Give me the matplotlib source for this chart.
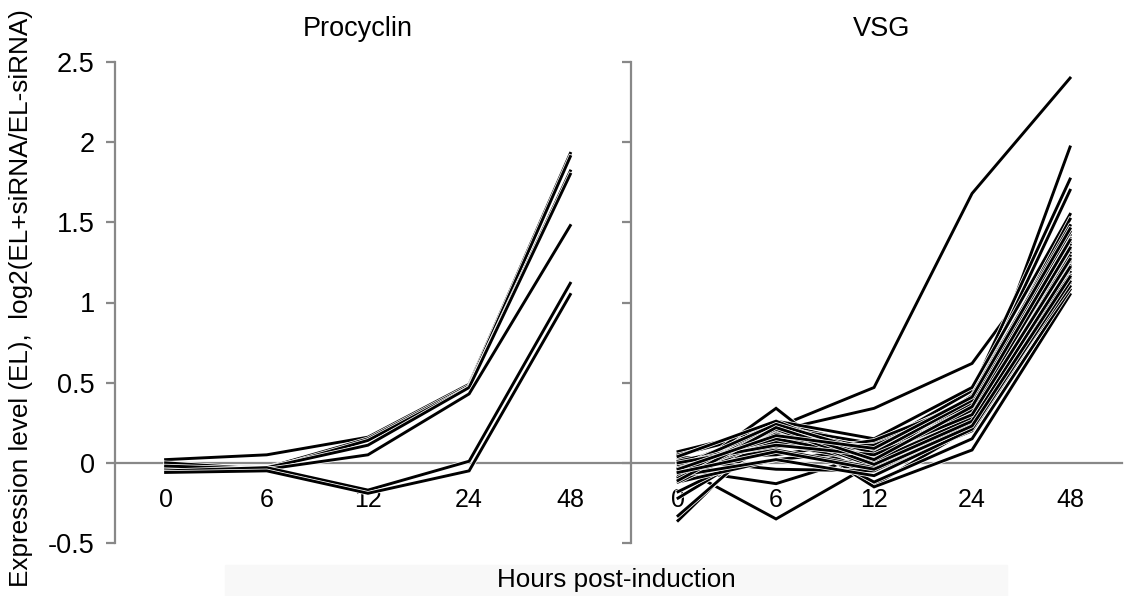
import matplotlib
matplotlib.use('Agg')
from matplotlib import pyplot as plt
from matplotlib import patheffects
from matplotlib.patches import Rectangle

plt.rcParams['font.family'] = ['Liberation Sans', 'DejaVu Sans']

hours = ['0', '6', '12', '24', '48']

# log2 ratios, one row per gene
procyclin = [
    [0.02, 0.05, 0.16, 0.49, 1.93],
    [-0.02, -0.03, 0.15, 0.48, 1.91],
    [0.00, -0.04, 0.14, 0.47, 1.82],
    [-0.04, -0.03, 0.11, 0.47, 1.80],
    [-0.02, -0.04, 0.05, 0.43, 1.48],
    [-0.05, -0.03, -0.17, 0.01, 1.12],
    [-0.06, -0.05, -0.19, -0.05, 1.05],
]

vsg = [
    [0.07, 0.22, 0.47, 1.68, 2.40],
    [0.05, 0.20, 0.34, 0.62, 1.45],
    [-0.02, -0.35, 0.00, 0.35, 1.38],
    [-0.10, 0.34, -0.14, 0.22, 1.25],
    [-0.04, -0.13, 0.06, 0.28, 1.30],
    [-0.36, 0.24, -0.15, 0.08, 1.05],
    [-0.33, 0.20, -0.12, 0.15, 1.08],
    [-0.22, 0.15, -0.05, 0.20, 1.12],
    [-0.18, 0.12, 0.02, 0.25, 1.15],
    [0.02, -0.04, -0.05, 0.24, 1.10],
    [-0.12, 0.02, 0.08, 0.30, 1.97],
    [-0.06, 0.25, 0.10, 0.45, 1.77],
    [-0.03, 0.22, 0.12, 0.40, 1.70],
    [-0.08, 0.26, 0.15, 0.47, 1.55],
    [0.03, 0.05, 0.14, 0.38, 1.52],
    [-0.05, 0.23, 0.05, 0.35, 1.42],
    [-0.09, 0.20, 0.03, 0.33, 1.40],
    [0.00, 0.18, 0.07, 0.31, 1.37],
    [-0.11, 0.24, 0.00, 0.29, 1.35],
    [-0.07, 0.16, 0.04, 0.27, 1.33],
    [-0.01, 0.21, 0.09, 0.36, 1.31],
    [-0.04, 0.12, 0.01, 0.26, 1.28],
    [-0.10, 0.19, -0.02, 0.24, 1.26],
    [0.01, 0.14, 0.06, 0.32, 1.23],
    [-0.06, 0.10, 0.11, 0.34, 1.21],
    [-0.02, 0.08, -0.03, 0.22, 1.19],
    [-0.12, 0.17, 0.04, 0.30, 1.17],
    [0.04, 0.26, 0.02, 0.42, 1.48],
    [-0.08, 0.02, -0.08, 0.21, 1.13],
    [-0.05, 0.13, 0.08, 0.37, 1.36],
    [-0.03, 0.24, 0.06, 0.39, 1.44],
    [-0.09, 0.18, 0.01, 0.28, 1.29],
    [-0.01, 0.15, 0.03, 0.33, 1.34],
    [-0.07, 0.21, -0.01, 0.26, 1.22],
    [0.00, 0.11, 0.05, 0.30, 1.27],
    [-0.11, 0.22, 0.02, 0.35, 1.39],
    [-0.04, 0.17, 0.09, 0.41, 1.46],
    [-0.06, 0.07, -0.04, 0.23, 1.16],
]

yticks = [-0.5, 0, 0.5, 1, 1.5, 2, 2.5]
ytick_labels = ['-0.5', '0', '0.5', '1', '1.5', '2', '2.5']

axis_grey = '#888888'
outline = [patheffects.Stroke(linewidth=3.2, foreground='white'), patheffects.Normal()]


def style_panel(ax, title, title_x, xlim, show_labels):
    ax.set_xlim(*xlim)
    ax.set_ylim(-0.5, 2.5)
    for side in ['top', 'right']:
        ax.spines[side].set_visible(False)
    ax.spines['left'].set_color(axis_grey)
    ax.spines['left'].set_linewidth(1.6)
    ax.spines['bottom'].set_position(('data', 0))
    ax.spines['bottom'].set_color(axis_grey)
    ax.spines['bottom'].set_linewidth(1.6)
    ax.spines['bottom'].set_zorder(0.5)
    ax.set_xticks(range(len(hours)))
    ax.set_xticklabels(hours)
    ax.tick_params(axis='x', length=0, pad=18, labelsize=18)
    ax.set_yticks(yticks)
    ax.set_yticklabels(ytick_labels if show_labels else [])
    ax.tick_params(axis='y', length=6.5, width=1.6, color=axis_grey, pad=8, labelsize=19.5)
    ax.set_title(title, fontsize=19.5, pad=19, x=title_x)
    ax.patch.set_visible(False)


def draw_lines(ax, profiles):
    for row in profiles:
        ax.plot(range(len(hours)), row, color='black', linewidth=2.1,
                solid_joinstyle='miter', path_effects=outline, zorder=2)


fig = plt.figure(figsize=(11.41, 5.96), dpi=100)
fig.patches.append(Rectangle((225 / 1141, 0), 782 / 1141, 31 / 596,
                             transform=fig.transFigure, color='#f8f8f8', zorder=0))

ax1 = fig.add_axes([115 / 1141, 53 / 596, 516 / 1141, 481 / 596])
ax2 = fig.add_axes([631 / 1141, 53 / 596, 491 / 1141, 481 / 596])

draw_lines(ax1, procyclin)
draw_lines(ax2, vsg)
style_panel(ax1, 'Procyclin', 0.47, (-0.5, 4.6), True)
style_panel(ax2, 'VSG', 0.511, (-0.48, 4.53), False)

fig.text(21 / 1141, 0.5, 'Expression level (EL),  log2(EL+siRNA/EL-siRNA)',
         rotation=90, ha='center', va='center', fontsize=18.8)
fig.text(616 / 1141, 16 / 596, 'Hours post-induction', ha='center', va='center', fontsize=18.7)

fig.savefig('out.png', dpi=100)
